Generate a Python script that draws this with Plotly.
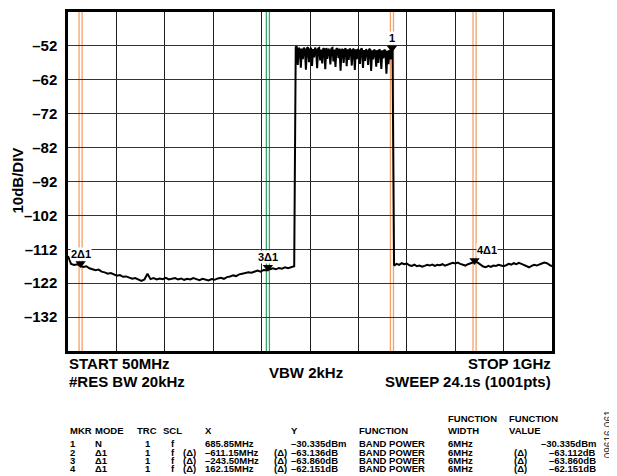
import numpy as np
import plotly.graph_objects as go

# spectrum trace (MHz / dBm)
floor_left_mhz = np.arange(50, 497, 6)
floor_left_dbm = [
    -114.0, -116.3, -116.6, -116.4, -116.9, -117.2, -117.0, -117.6, -117.9, -118.2,
    -118.0, -118.6, -118.8, -119.2, -119.0, -119.5, -119.8, -119.6, -120.1, -120.0,
    -120.4, -120.7, -120.5, -121.0, -121.3, -120.9, -119.2, -120.8, -120.5, -120.9,
    -120.6, -120.8, -120.4, -120.9, -120.7, -120.5, -120.9, -120.6, -121.0, -120.7,
    -120.9, -120.5, -120.8, -121.1, -120.7, -120.9, -121.2, -120.8, -121.0, -120.6,
    -120.4, -120.7, -120.2, -120.0, -119.7, -119.9, -119.4, -119.2, -119.0, -118.8,
    -118.9, -118.5, -118.3, -118.6, -118.1, -118.2, -117.9, -117.6, -117.9, -117.5,
    -117.7, -117.3, -117.6, -117.2, -117.0,
]

band_mhz = np.arange(497, 689, 2)
band_dbm = [
    -52.4, -52.1, -57.6, -52.6, -53.0, -58.4, -52.8, -55.9, -52.5, -53.1,
    -59.0, -52.7, -52.4, -56.8, -53.0, -52.6, -57.9, -52.9, -55.4, -52.5,
    -53.2, -58.6, -52.8, -52.6, -56.3, -53.1, -57.2, -52.7, -53.0, -58.9,
    -52.6, -55.8, -52.9, -53.3, -57.5, -52.8, -52.6, -56.6, -53.1, -58.2,
    -52.7, -53.0, -55.6, -52.8, -59.3, -53.2, -52.9, -57.0, -53.1, -52.7,
    -58.0, -53.0, -56.1, -52.8, -53.3, -57.8, -52.9, -53.1, -59.1, -53.0,
    -55.9, -52.9, -53.4, -57.3, -53.0, -52.8, -58.5, -53.2, -56.4, -53.0,
    -53.5, -57.6, -53.1, -52.9, -59.4, -53.3, -56.0, -53.1, -53.6, -58.1,
    -53.2, -57.0, -53.0, -53.5, -58.8, -53.3, -55.7, -53.1, -53.6, -60.2,
    -53.4, -57.4, -53.2, -56.0, -53.5, -53.3,
]

floor_right_mhz = np.arange(690, 1001, 5)
floor_right_dbm = [
    -116.8, -116.3, -116.6, -116.1, -116.4, -116.2, -116.7, -116.9, -116.5, -117.0,
    -116.8, -117.1, -116.9, -116.6, -116.8, -116.5, -116.9, -116.6, -116.7, -116.4,
    -116.8, -116.5, -116.3, -116.0, -116.2, -115.9, -116.3, -116.6, -116.8, -116.4,
    -116.1, -115.8, -115.6, -116.0, -116.7, -117.1, -117.3, -116.9, -117.2, -116.8,
    -116.9, -116.6, -116.8, -117.0, -116.7, -116.3, -116.5, -116.1, -116.4, -116.0,
    -116.3, -116.7, -117.1, -117.3, -116.9, -116.6, -116.8, -116.4, -116.2, -115.9,
    -116.1, -116.6, -117.0,
]

# markers
marker_mhz = [685.85, 74.70, 442.35, 848.00]
marker_dbm = [-52.6, -116.2, -117.3, -115.3]
marker_names = ["1", "2Δ1", "3Δ1", "4Δ1"]
marker_colors = ["#f5a06a", "#f5a06a", "#3fa56c", "#f5a06a"]
band_width_mhz = 6

y_ticks = [-52, -62, -72, -82, -92, -102, -112, -122, -132]
x_grid = [50 + 95 * k for k in range(11)]

# marker table
mkr_ids = ["1", "2", "3", "4"]
mkr_mode = ["N", "Δ1", "Δ1", "Δ1"]
mkr_trc = ["1", "1", "1", "1"]
mkr_scl = ["f", "f", "f", "f"]
mkr_x_text = ["685.85MHz", "–611.15MHz", "–243.50MHz", "162.15MHz"]
mkr_y_text = ["–30.335dBm", "–63.136dB", "–63.860dB", "–62.151dB"]
mkr_func = ["BAND POWER"] * 4
mkr_width = ["6MHz"] * 4
mkr_value = ["–30.335dBm", "–63.112dB", "–63.860dB", "–62.151dB"]
mkr_is_delta = [False, True, True, True]

# page has an 8px body margin, so the figure is drawn 8px in from the top-left
OFF = 8
W, H = 617 - OFF, 476 - OFF
L, R, T, B = 68, 552, 9, 351   # plot box in page pixels


def px(x):
    return (x - L) / (R - L)


def py(y):
    return (B - y) / (B - T)


FONT = "Liberation Sans, Arial, sans-serif"

trace_x = list(floor_left_mhz) + list(band_mhz) + list(floor_right_mhz)
trace_y = floor_left_dbm + band_dbm + floor_right_dbm

fig = go.Figure()

fig.add_trace(go.Scatter(x=trace_x, y=trace_y, mode="lines",
                         line=dict(color="black", width=2), hoverinfo="skip"))

fig.add_trace(go.Scatter(x=marker_mhz, y=marker_dbm, mode="markers",
                         marker=dict(symbol="triangle-down", size=9, color="black"),
                         hoverinfo="skip"))

shapes = []
for f, c in zip(marker_mhz, marker_colors):
    for off in (-band_width_mhz / 2, band_width_mhz / 2):
        shapes.append(dict(type="line", xref="x", yref="paper", x0=f + off, x1=f + off,
                           y0=0, y1=1, layer="between", line=dict(color=c, width=1.3)))

annotations = []
for i, (f, v, name) in enumerate(zip(marker_mhz, marker_dbm, marker_names)):
    annotations.append(dict(x=f, y=v, xref="x", yref="y", text=name, showarrow=False,
                            xanchor="left" if i == 3 else "center", xshift=1 if i == 3 else 0,
                            yanchor="bottom", yshift=3, bgcolor="white", borderpad=0,
                            font=dict(family=FONT, size=11, color="black", weight="bold")))

annotations.append(dict(x=px(18), y=py(179), xref="paper", yref="paper", text="10dB/DIV",
                        showarrow=False, textangle=-90, xanchor="center", yanchor="middle",
                        font=dict(family=FONT, size=15, color="black", weight="bold")))


def label(text, x, y, anchor, size):
    annotations.append(dict(x=px(x), y=py(y), xref="paper", yref="paper", text=text,
                            showarrow=False, xanchor=anchor, yanchor="middle", borderpad=0,
                            font=dict(family=FONT, size=size, color="black", weight="bold")))


label("START 50MHz", 68, 364, "left", 15)
label("#RES BW 20kHz", 68, 382, "left", 15)
label("VBW 2kHz", 306, 373, "center", 15)
label("STOP 1GHz", 552, 364, "right", 15)
label("SWEEP 24.1s (1001pts)", 552, 382, "right", 15)

ts = 9.5
label("FUNCTION", 447, 419.5, "left", ts)
label("FUNCTION", 508, 419.5, "left", ts)
for text, x in [("MKR", 69), ("MODE", 94), ("TRC", 136), ("SCL", 162), ("X", 204),
                ("Y", 290), ("FUNCTION", 358), ("WIDTH", 447), ("VALUE", 508)]:
    label(text, x, 431.5, "left", ts)

row_y = [444.5, 453, 461.5, 470]
for i in range(4):
    yy = row_y[i]
    label(mkr_ids[i], 69, yy, "left", ts)
    label(mkr_mode[i], 94, yy, "left", ts)
    label(mkr_trc[i], 148, yy, "center", ts)
    label(mkr_scl[i], 173, yy, "center", ts)
    label(mkr_x_text[i], 204, yy, "left", ts)
    label(mkr_y_text[i], 290, yy, "left", ts)
    label(mkr_func[i], 358, yy, "left", ts)
    label(mkr_width[i], 447, yy, "left", ts)
    label(mkr_value[i], 597, yy, "right", ts)
    if mkr_is_delta[i]:
        label("(Δ)", 182, yy, "left", ts)
        label("(Δ)", 288, yy, "right", ts)
        label("(Δ)", 513, yy, "left", ts)

annotations.append(dict(x=px(608), y=py(435), xref="paper", yref="paper", text="09616-061",
                        showarrow=False, textangle=-90, xanchor="center", yanchor="middle",
                        font=dict(family=FONT, size=10, color="#333")))

fig.update_layout(
    width=W, height=H,
    margin=dict(l=L - OFF, r=W - (R - OFF), t=T - OFF, b=H - (B - OFF), pad=0),
    paper_bgcolor="white", plot_bgcolor="white",
    showlegend=False,
    shapes=shapes,
    annotations=annotations,
    xaxis=dict(range=[50, 1000], tickvals=x_grid, showticklabels=False, ticks="",
               showgrid=True, gridcolor="#1e1e1e", gridwidth=1.4, zeroline=False,
               showline=True, linecolor="black", linewidth=2.5, mirror=True),
    yaxis=dict(range=[-142, -42], tickvals=y_ticks, ticktext=["–" + str(-v) for v in y_ticks],
               ticks="", ticklabelstandoff=5,
               tickfont=dict(family=FONT, size=15, color="black", weight="bold"),
               showgrid=True, gridcolor="#333", gridwidth=1.4, zeroline=False,
               showline=True, linecolor="black", linewidth=2.5, mirror=True),
)

fig.write_html("out.html")
